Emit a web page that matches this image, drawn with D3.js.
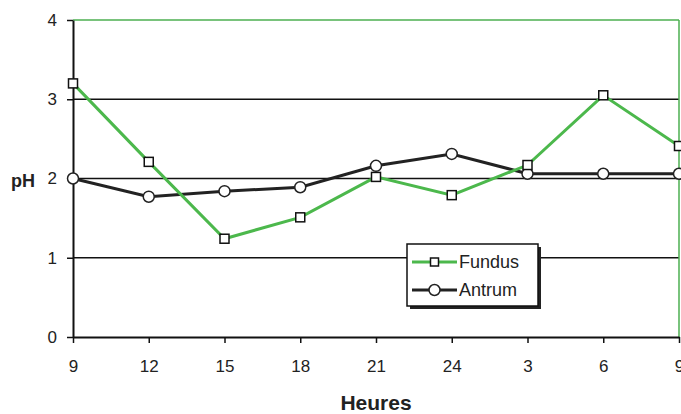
<!DOCTYPE html>
<html>
<head>
<meta charset="utf-8">
<script src="https://cdn.jsdelivr.net/npm/d3@7"></script>
<style>
  body { margin: 0; background: #fff; }
  text { font-family: "Liberation Sans", Arial, sans-serif; fill: #222; }
</style>
</head>
<body>
<div id="chart"></div>
<script>
// ── Data ───────────────────────────────────────────────────────────────
const hours = ["9", "12", "15", "18", "21", "24", "3", "6", "9 "];
const fundus = [3.2, 2.21, 1.24, 1.51, 2.02, 1.79, 2.17, 3.05, 2.41];
const antrum = [2.0, 1.77, 1.84, 1.89, 2.16, 2.31, 2.06, 2.06, 2.06];
const yTicks = [0, 1, 2, 3, 4];

// ── Dimensions ─────────────────────────────────────────────────────────
const W = 681, H = 414;
const margin = { top: 20, right: 2, bottom: 77, left: 73 };
const width = 679 - margin.left;
const height = 337 - margin.top;

const svg = d3.select("#chart").append("svg")
  .attr("width", W).attr("height", H);

const g = svg.append("g")
  .attr("transform", `translate(${margin.left},${margin.top})`);

// ── Scales ─────────────────────────────────────────────────────────────
const x = d3.scalePoint().domain(hours).range([0, width]);
const y = d3.scaleLinear().domain([0, 4]).range([height, 0]);

// ── Grid lines ─────────────────────────────────────────────────────────
g.selectAll(".grid")
  .data(yTicks.filter((d) => d > 0 && d < 4))
  .join("line")
  .attr("x1", 0).attr("x2", width)
  .attr("y1", (d) => y(d)).attr("y2", (d) => y(d))
  .attr("stroke", "#111").attr("stroke-width", 1.5);

// plot border (top / right green)
g.append("line").attr("x1", 0).attr("x2", width).attr("y1", 0).attr("y2", 0)
  .attr("stroke", "#4caf50").attr("stroke-width", 1.5);
g.append("line").attr("x1", width).attr("x2", width).attr("y1", 0).attr("y2", height)
  .attr("stroke", "#4caf50").attr("stroke-width", 1.5);

// ── Axes ───────────────────────────────────────────────────────────────
const xAxis = g.append("g")
  .attr("transform", `translate(0,${height})`)
  .call(d3.axisBottom(x).tickSize(6).tickPadding(17).tickSizeOuter(0));
xAxis.select(".domain").attr("stroke", "#111").attr("stroke-width", 2);
xAxis.selectAll(".tick line").attr("stroke", "#111").attr("stroke-width", 1.5);
xAxis.selectAll(".tick text").attr("font-size", 17)
  .attr("font-family", "Liberation Sans, Arial, sans-serif");

const yAxis = g.append("g")
  .call(d3.axisLeft(y).tickValues(yTicks).tickFormat(d3.format("d"))
    .tickSize(6).tickPadding(10).tickSizeOuter(0));
yAxis.select(".domain").attr("stroke", "#111").attr("stroke-width", 2);
yAxis.selectAll(".tick line").attr("stroke", "#111").attr("stroke-width", 1.5);
yAxis.selectAll(".tick text").attr("font-size", 17)
  .attr("font-family", "Liberation Sans, Arial, sans-serif");

// ── Axis labels ────────────────────────────────────────────────────────
svg.append("text")
  .attr("x", 11).attr("y", 187)
  .attr("font-size", 18).attr("font-weight", "bold")
  .text("pH");

svg.append("text")
  .attr("x", 376).attr("y", 410)
  .attr("text-anchor", "middle")
  .attr("font-size", 21).attr("font-weight", "bold")
  .text("Heures");

// ── Lines ──────────────────────────────────────────────────────────────
const line = (vals) => d3.line()
  .x((d, i) => x(hours[i]))
  .y((d) => y(d))(vals);

g.append("path").attr("d", line(antrum))
  .attr("fill", "none").attr("stroke", "#222").attr("stroke-width", 3);
g.append("path").attr("d", line(fundus))
  .attr("fill", "none").attr("stroke", "#4cb84c").attr("stroke-width", 3);

g.selectAll(".pt-a").data(antrum).join("circle")
  .attr("cx", (d, i) => x(hours[i])).attr("cy", (d) => y(d))
  .attr("r", 5.5).attr("fill", "#fff").attr("stroke", "#222").attr("stroke-width", 1.5);

g.selectAll(".pt-f").data(fundus).join("rect")
  .attr("x", (d, i) => x(hours[i]) - 4.5).attr("y", (d) => y(d) - 4.5)
  .attr("width", 9).attr("height", 9)
  .attr("fill", "#fff").attr("stroke", "#111").attr("stroke-width", 1.5);

// ── Legend ─────────────────────────────────────────────────────────────
const legend = svg.append("g").attr("transform", "translate(407,244)");
legend.append("rect").attr("x", 3).attr("y", 3).attr("width", 131).attr("height", 62)
  .attr("fill", "#222");
legend.append("rect").attr("x", 0).attr("y", 0).attr("width", 131).attr("height", 62)
  .attr("fill", "#fff").attr("stroke", "#111").attr("stroke-width", 1.5);

const items = [
  { label: "Fundus", color: "#4cb84c", shape: "square" },
  { label: "Antrum", color: "#222", shape: "circle" },
];
items.forEach((s, i) => {
  const row = legend.append("g").attr("transform", `translate(0,${18 + i * 28})`);
  row.append("line").attr("x1", 5).attr("x2", 50)
    .attr("stroke", s.color).attr("stroke-width", 3);
  if (s.shape === "square") {
    row.append("rect").attr("x", 23.5).attr("y", -4).attr("width", 8).attr("height", 8)
      .attr("fill", "#fff").attr("stroke", "#111").attr("stroke-width", 1.5);
  } else {
    row.append("circle").attr("cx", 27.5).attr("r", 5.5)
      .attr("fill", "#fff").attr("stroke", "#222").attr("stroke-width", 1.5);
  }
  row.append("text").attr("x", 52).attr("y", 6)
    .attr("font-size", 18).text(s.label);
});
</script>
</body>
</html>
